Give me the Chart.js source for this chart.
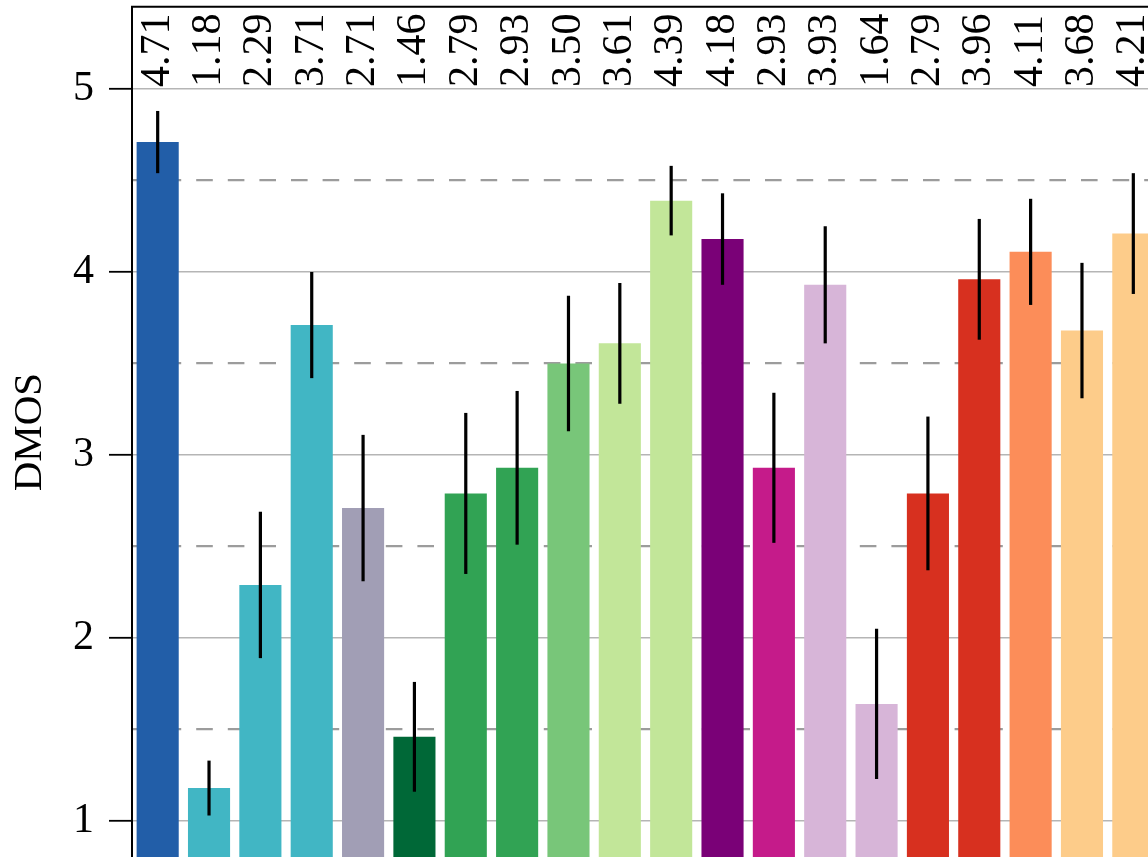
<!DOCTYPE html>
<html>
<head>
<meta charset="utf-8">
<script src="https://cdn.jsdelivr.net/npm/chart.js@4"></script>
<style>
  html, body { margin: 0; padding: 0; background: #ffffff; overflow: hidden; }
  #wrap { width: 1160px; height: 860px; }
  canvas { display: block; }
</style>
</head>
<body>
<div id="wrap"><canvas id="chart" width="1160" height="860"></canvas></div>
<script>
// Test conditions (one bar each), left to right
const conditions = ['C01','C02','C03','C04','C05','C06','C07','C08','C09','C10',
                    'C11','C12','C13','C14','C15','C16','C17','C18','C19','C20'];

// Mean DMOS per condition
const dmos = [4.71, 1.18, 2.29, 3.71, 2.71, 1.46, 2.79, 2.93, 3.50, 3.61,
              4.39, 4.18, 2.93, 3.93, 1.64, 2.79, 3.96, 4.11, 3.68, 4.21];

// Half-width of the confidence interval per condition
const ci = [0.17, 0.15, 0.40, 0.29, 0.40, 0.30, 0.44, 0.42, 0.37, 0.33,
            0.19, 0.25, 0.41, 0.32, 0.41, 0.42, 0.33, 0.29, 0.37, 0.33];

// Bar fill per condition
const barColors = ['#225ea8', '#41b6c4', '#41b6c4', '#41b6c4', '#a19eb5',
                   '#006837', '#31a354', '#31a354', '#78c679', '#c2e699',
                   '#c2e699', '#7a0177', '#c51b8a', '#d7b5d8', '#d7b5d8',
                   '#d7301f', '#d7301f', '#fc8d59', '#fdcc8a', '#fdcc8a'];

// Value axis ticks (labelled) and the level under the value labels
const yTickValues = [1, 2, 3, 4, 5];
const labelBase = 5;

const SERIF = '"Liberation Serif", "DejaVu Serif", serif';

// Vertical confidence-interval whiskers on each bar
const errorBars = {
  id: 'errorBars',
  afterDatasetsDraw(chart) {
    const { ctx, scales: { y } } = chart;
    const meta = chart.getDatasetMeta(0);
    ctx.save();
    ctx.strokeStyle = '#000000';
    ctx.lineWidth = 3.2;
    ctx.lineCap = 'butt';
    meta.data.forEach((bar, i) => {
      const yTop = y.getPixelForValue(dmos[i] + ci[i]);
      const yBot = y.getPixelForValue(dmos[i] - ci[i]);
      ctx.beginPath();
      ctx.moveTo(bar.x, yTop);
      ctx.lineTo(bar.x, yBot);
      ctx.stroke();
    });
    ctx.restore();
  }
};

// Rotated value labels in the band above the top gridline, plus the frame's top edge
const valueLabels = {
  id: 'valueLabels',
  afterDraw(chart) {
    const { ctx, chartArea, scales: { x, y } } = chart;
    const base = y.getPixelForValue(labelBase) - 2;
    ctx.save();
    ctx.fillStyle = '#000000';
    ctx.font = '42px ' + SERIF;
    ctx.textAlign = 'left';
    ctx.textBaseline = 'middle';
    dmos.forEach((v, i) => {
      const cx = x.getPixelForValue(i);
      ctx.save();
      ctx.translate(cx, base);
      ctx.rotate(-Math.PI / 2);
      ctx.fillText(v.toFixed(2), 0, 0);
      ctx.restore();
    });
    ctx.strokeStyle = '#000000';
    ctx.lineWidth = 2;
    ctx.beginPath();
    ctx.moveTo(chartArea.left - 1, chartArea.top);
    ctx.lineTo(chartArea.right, chartArea.top);
    ctx.stroke();
    ctx.restore();
  }
};

const isWhole = (v) => Math.abs(v - Math.round(v)) < 1e-6;

new Chart(document.getElementById('chart'), {
  type: 'bar',
  data: {
    labels: conditions,
    datasets: [{
      label: 'DMOS',
      data: dmos,
      backgroundColor: barColors,
      borderWidth: 0,
      barPercentage: 0.82,
      categoryPercentage: 1.0
    }]
  },
  options: {
    responsive: false,
    animation: false,
    devicePixelRatio: 1,
    layout: { padding: { top: 6.65, right: 1, bottom: 2.4, left: 0 } },
    plugins: {
      legend: { display: false },
      tooltip: { enabled: false },
      title: { display: false }
    },
    scales: {
      x: {
        type: 'category',
        display: false,
        offset: true,
        grid: { display: false }
      },
      y: {
        type: 'linear',
        min: 0.8,
        max: 5.45,
        afterFit(scale) {
          scale.width = 132;
          scale.paddingTop = 0;
          scale.paddingBottom = 0;
        },
        ticks: {
          stepSize: 0.5,
          includeBounds: false,
          padding: 15,
          color: '#000000',
          font: { family: SERIF, size: 42 },
          callback: (v) => (yTickValues.includes(v) ? String(v) : '')
        },
        grid: {
          drawTicks: true,
          tickLength: 23,
          color: (c) => (c.tick && isWhole(c.tick.value) ? '#b5b5b5' : '#9c9c9c'),
          lineWidth: (c) => (c.tick && isWhole(c.tick.value) ? 1.6 : 2.2),
          tickWidth: 1.8,
          tickColor: (c) => (c.tick && isWhole(c.tick.value) ? '#000000' : 'rgba(0,0,0,0)')
        },
        border: {
          display: true,
          color: '#000000',
          width: 2,
          dash: (c) => (c.tick && !isWhole(c.tick.value) ? [16.6, 15] : []),
          dashOffset: 0
        },
        title: {
          display: true,
          text: 'DMOS',
          color: '#000000',
          font: { family: SERIF, size: 41 },
          padding: { top: 6, bottom: 0 }
        }
      }
    }
  },
  plugins: [errorBars, valueLabels]
});
</script>
</body>
</html>
